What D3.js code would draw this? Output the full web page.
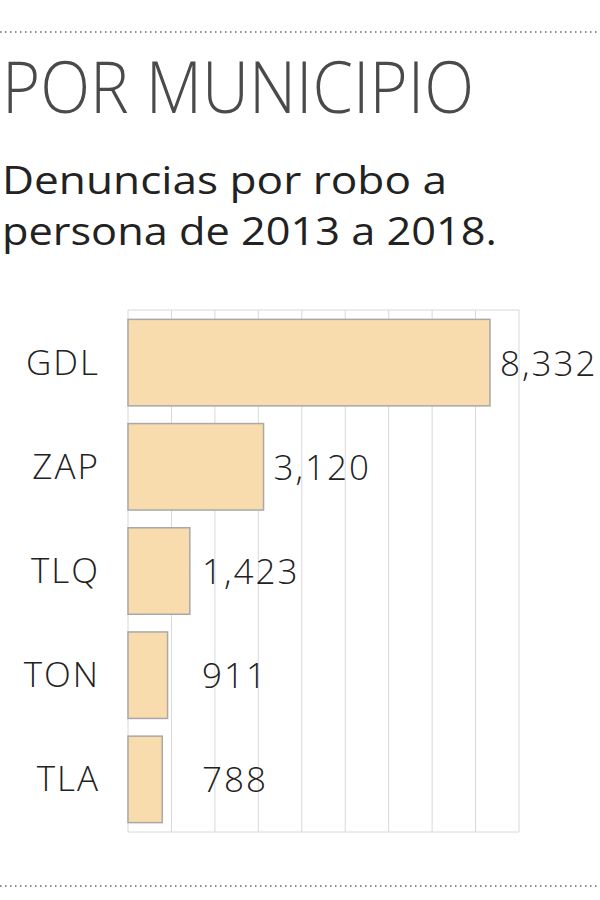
<!DOCTYPE html>
<html><head><meta charset="utf-8">
<script src="https://cdn.jsdelivr.net/npm/d3@7"></script>
<style>body{margin:0;background:#fff}</style></head>
<body><svg id="c" width="600" height="900"></svg>
<script>
const categories=["GDL","ZAP","TLQ","TON","TLA"];
const values=[8332,3120,1423,911,788];
const valueLabels=["8,332","3,120","1,423","911","788"];
const ticks=[0,1000,2000,3000,4000,5000,6000,7000,8000,9000];

const svg=d3.select("#c");
const font="'Open Sans', 'DejaVu Sans', sans-serif";
[32,886].forEach(y=>svg.append("line").attr("x1",0).attr("x2",600).attr("y1",y).attr("y2",y)
 .attr("stroke","#666").attr("stroke-width",1.5).attr("stroke-dasharray","1.5,3.5"));
svg.append("text").attr("x",2).attr("y",113).text("POR MUNICIPIO")
 .attr("font-family","'Open Sans', sans-serif").attr("font-weight",300).attr("font-size",72)
 .attr("fill","#4a4a4a").attr("textLength",472).attr("lengthAdjust","spacingAndGlyphs");
[["Denuncias por robo a",445],["persona de 2013 a 2018.",495]].forEach((t,i)=>
 svg.append("text").attr("x",2).attr("y",194+i*51).text(t[0]).attr("font-family",font)
 .attr("font-size",39).attr("fill","#222").attr("textLength",t[1]).attr("lengthAdjust","spacingAndGlyphs"));

const x=d3.scaleLinear().domain([0,9000]).range([128,519]);
const y=d3.scaleBand().domain(categories).range([310,832]).paddingInner(0.17).paddingOuter(0.09);
svg.append("g").selectAll("line").data(ticks).join("line")
 .attr("x1",d=>x(d)).attr("x2",d=>x(d)).attr("y1",310).attr("y2",832).attr("stroke","#d8d8d8");
[310,832].forEach(v=>svg.append("line").attr("x1",128).attr("x2",519).attr("y1",v).attr("y2",v).attr("stroke","#d8d8d8"));
svg.append("g").selectAll("rect").data(values).join("rect")
 .attr("x",x(0)).attr("y",(d,i)=>y(categories[i])).attr("width",d=>x(d)-x(0))
 .attr("height",y.bandwidth()).attr("fill","#f9dcae").attr("stroke","#a8a8a8").attr("stroke-width",1.5);
svg.append("g").selectAll("text").data(categories).join("text")
 .attr("x",100).attr("y",d=>y(d)+y.bandwidth()/2+12).attr("text-anchor","end").text(d=>d)
 .attr("font-family",font).attr("font-weight",300).attr("font-size",35).attr("fill","#222")
 .attr("letter-spacing",2);
svg.append("g").selectAll("text").data(values).join("text")
 .attr("x",d=>Math.max(x(d)+10,202)).attr("y",(d,i)=>y(categories[i])+y.bandwidth()/2+13)
 .text((d,i)=>valueLabels[i]).attr("font-family",font).attr("font-weight",300).attr("font-size",35)
 .attr("fill","#222").attr("letter-spacing",2);
</script></body></html>
